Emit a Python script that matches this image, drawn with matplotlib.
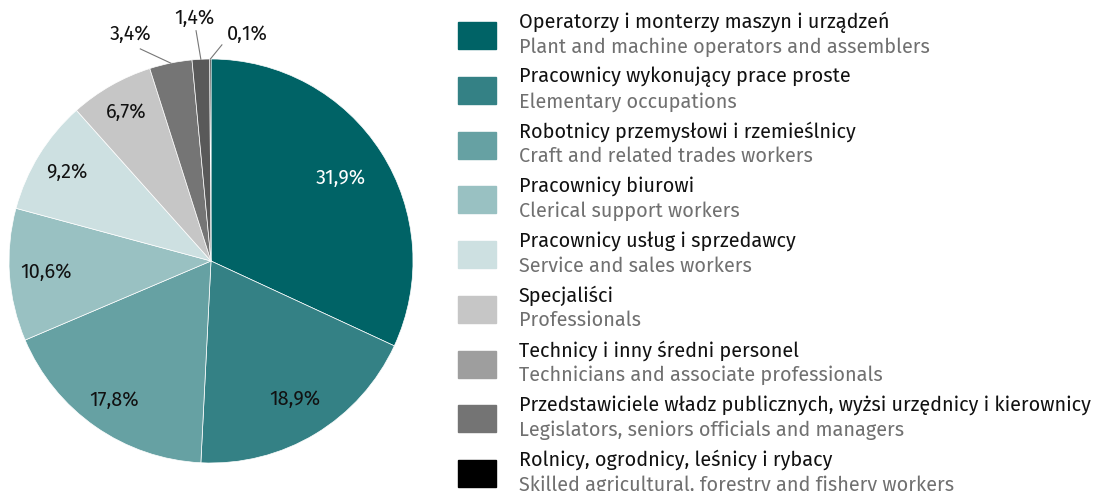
import numpy as np
import matplotlib
matplotlib.use("Agg")
import matplotlib.pyplot as plt
from matplotlib.patches import Rectangle

plt.rcParams['font.family'] = ['Fira Sans', 'Roboto', 'DejaVu Sans']

# data
shares = [31.9, 18.9, 17.8, 10.6, 9.2, 6.7, 3.4, 1.4, 0.1]
labels = ['31,9%', '18,9%', '17,8%', '10,6%', '9,2%', '6,7%', '3,4%', '1,4%', '0,1%']
names_pl = [
    'Operatorzy i monterzy maszyn i urządzeń',
    'Pracownicy wykonujący prace proste',
    'Robotnicy przemysłowi i rzemieślnicy',
    'Pracownicy biurowi',
    'Pracownicy usług i sprzedawcy',
    'Specjaliści',
    'Technicy i inny średni personel',
    'Przedstawiciele władz publicznych, wyżsi urzędnicy i kierownicy',
    'Rolnicy, ogrodnicy, leśnicy i rybacy',
]
names_en = [
    'Plant and machine operators and assemblers',
    'Elementary occupations',
    'Craft and related trades workers',
    'Clerical support workers',
    'Service and sales workers',
    'Professionals',
    'Technicians and associate professionals',
    'Legislators, seniors officials and managers',
    'Skilled agricultural, forestry and fishery workers',
]
pie_colors = ['#006366', '#348185', '#66a1a3', '#99c1c2', '#cde0e1',
              '#c6c6c6', '#757575', '#595959', '#000000']
legend_colors = ['#006366', '#348185', '#66a1a3', '#99c1c2', '#cde0e1',
                 '#c6c6c6', '#9e9e9e', '#747474', '#000000']

W, H = 1097, 491
fig = plt.figure(figsize=(W / 100, H / 100), dpi=100)
ax = fig.add_axes([9 / W, 28 / H, 404 / W, 404 / H])
wedges, _ = ax.pie(shares, colors=pie_colors, startangle=90, counterclock=False,
                   radius=1, wedgeprops=dict(linewidth=0.5, edgecolor='white'))
ax.set_xlim(-1, 1)
ax.set_ylim(-1, 1)
ax.set_aspect('equal')
ax.axis('off')

# inside labels
inner_dist = [0.76, 0.80, 0.84, 0.82, 0.84, 0.85]
for i, w in enumerate(wedges[:6]):
    a = np.deg2rad((w.theta1 + w.theta2) / 2)
    col = 'white' if i == 0 else '#111111'
    ax.text(inner_dist[i] * np.cos(a), inner_dist[i] * np.sin(a), labels[i],
            ha='center', va='center', fontsize=14.3, color=col)

# outside labels for small slices
outer = {6: ((-0.40, 1.12), (-0.35, 1.05)),
         7: ((-0.084, 1.20), (-0.074, 1.14)),
         8: ((0.18, 1.12), (0.054, 1.07))}
for i, (txt_xy, line_xy) in outer.items():
    w = wedges[i]
    a = np.deg2rad((w.theta1 + w.theta2) / 2)
    ax.plot([np.cos(a), line_xy[0]], [np.sin(a), line_xy[1]], color='#777777',
            lw=0.8, clip_on=False)
    ax.text(txt_xy[0], txt_xy[1], labels[i], ha='center', va='center',
            fontsize=14.3, color='#111111')

# legend
top = 22
step = 54.75
for i in range(len(names_pl)):
    y_pl = top + i * step
    y_en = y_pl + 25
    fig.patches.append(Rectangle((458 / W, 1 - (y_pl + 27) / H), 38 / W, 27 / H,
                                 transform=fig.transFigure, color=legend_colors[i]))
    fig.text(519 / W, 1 - y_pl / H, names_pl[i], ha='left', va='center',
             fontsize=14.3, color='#111111')
    fig.text(519 / W, 1 - y_en / H, names_en[i], ha='left', va='center',
             fontsize=14.3, color='#707070')

fig.savefig('out.png', dpi=100)
